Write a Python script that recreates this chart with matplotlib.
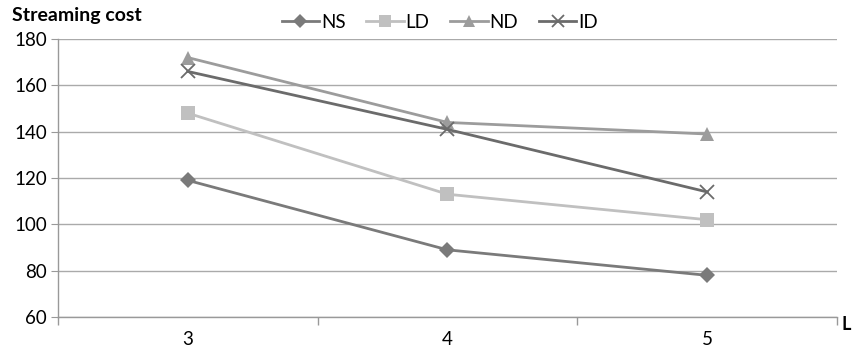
import numpy as np
import matplotlib.pyplot as plt

plt.rcParams['font.family'] = ['Lato', 'DejaVu Sans']

# Datos
L_vals = [3, 4, 5]
ns = [119, 89, 78]
ld = [148, 113, 102]
nd = [172, 144, 139]
id_ = [166, 141, 114]

series = [
    ('NS', ns, '#7a7a7a', 'D', 8),
    ('LD', ld, '#c0c0c0', 's', 10),
    ('ND', nd, '#9c9c9c', '^', 10),
    ('ID', id_, '#6b6b6b', 'x', 10),
]

fig = plt.figure(figsize=(8.58, 3.55), dpi=100)
ax = fig.add_axes([0.0676, 0.107, 0.9079, 0.783])

for name, vals, col, mk, ms in series:
    ax.plot(L_vals, vals, color=col, marker=mk, markersize=ms, linewidth=2,
            markeredgewidth=1.3 if mk == 'x' else 0, label=name)

ax.set_xlim(2.5, 5.5)
ax.set_ylim(60, 180)
ax.set_yticks(np.arange(60, 181, 20))
ax.set_xticks(L_vals)
ax.set_xticks([2.5, 3.5, 4.5, 5.5], minor=True)
ax.tick_params(axis='x', which='major', length=0, pad=10, labelsize=13.5)
ax.tick_params(axis='x', which='minor', length=6, color='#999999', width=1)
ax.tick_params(axis='y', length=5, color='#999999', labelsize=13.5, pad=3)
ax.grid(axis='y', color='#aaaaaa', linewidth=1)
ax.set_axisbelow(True)
for s in ['top', 'right']:
    ax.spines[s].set_visible(False)
for s in ['left', 'bottom']:
    ax.spines[s].set_color('#999999')
    ax.spines[s].set_linewidth(1)

fig.text(0.014, 0.955, 'Streaming cost', fontsize=14, fontweight='bold', va='center')
fig.text(0.992, 0.085, 'L', fontsize=13, fontweight='bold', ha='right', va='center')

ax.legend(loc='center', bbox_to_anchor=(0.49, 1.06), ncol=4, frameon=False,
          fontsize=13.5, handlelength=2.0, handletextpad=0.1, columnspacing=1.1,
          borderaxespad=0, markerscale=0.85)

fig.savefig('out.png', dpi=100)
